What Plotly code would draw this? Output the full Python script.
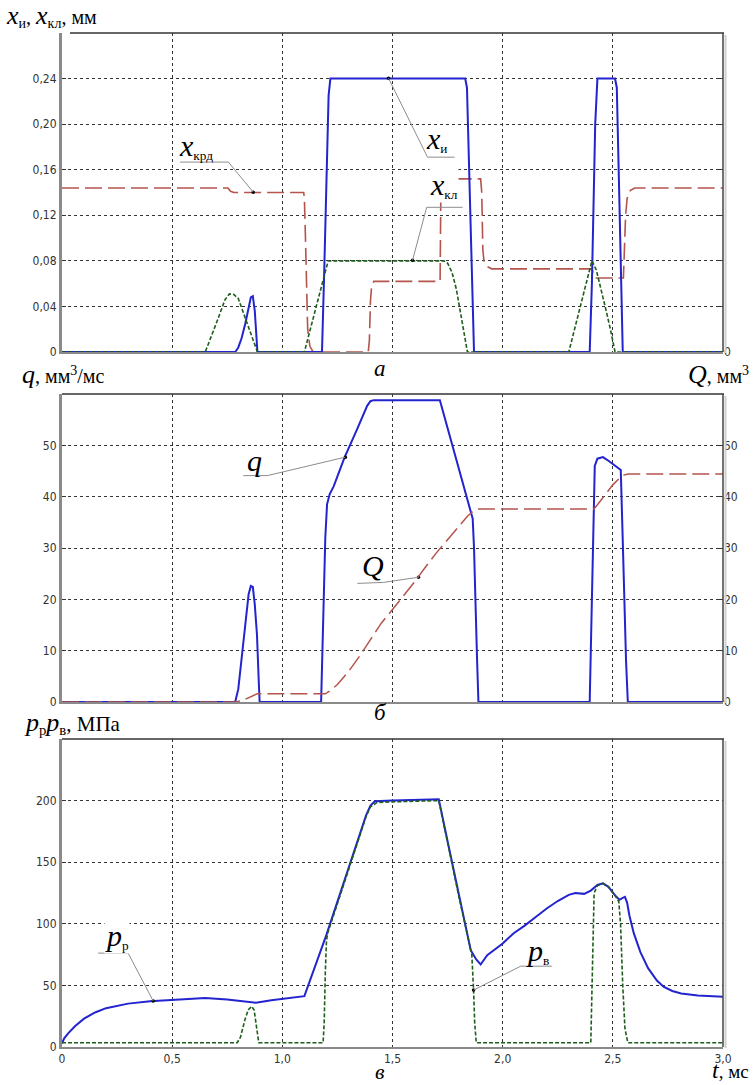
import plotly.graph_objects as go

# ---------------- data ----------------
# panel a: x_и, x_кл, x_крд  (t in ms, values in mm)
t_xi = [0, 0.786, 0.80, 0.815, 0.832, 0.847, 0.857, 0.866, 0.875, 0.887, 1.18, 1.19, 1.20, 1.21, 1.218, 1.83, 1.838, 1.845, 1.86, 1.87, 2.395, 2.405, 2.42, 2.43, 2.51, 2.518, 2.53, 2.545, 3.0]
v_xi = [0, 0, 0.004, 0.012, 0.025, 0.040, 0.048, 0.049, 0.036, 0, 0, 0.07, 0.16, 0.225, 0.24, 0.24, 0.232, 0.18, 0.06, 0, 0, 0.06, 0.2, 0.24, 0.24, 0.232, 0.13, 0, 0]

t_xkl = [0, 0.65, 0.70, 0.74, 0.76, 0.78, 0.80, 0.824, 0.85, 0.87, 0.887, 1.10, 1.15, 1.208, 1.733, 1.75, 1.77, 1.79, 1.81, 1.83, 1.84, 2.30, 2.35, 2.405, 2.425, 2.445, 2.47, 2.49, 2.51, 3.0]
v_xkl = [0, 0, 0.025, 0.046, 0.051, 0.0505, 0.047, 0.034, 0.02, 0.01, 0, 0, 0.037, 0.08, 0.08, 0.078, 0.07, 0.055, 0.033, 0.012, 0, 0, 0.038, 0.08, 0.072, 0.057, 0.036, 0.019, 0, 0]

t_xkrd = [0, 0.753, 0.765, 0.78, 1.097, 1.10, 1.105, 1.11, 1.115, 1.125, 1.14, 1.39, 1.395, 1.40, 1.405, 1.415, 1.716, 1.72, 1.90, 1.905, 1.91, 1.915, 1.93, 1.95, 2.405, 2.41, 2.42, 2.548, 2.552, 2.558, 2.565, 2.58, 2.60, 3.0]
v_xkrd = [0.144, 0.144, 0.141, 0.140, 0.140, 0.135, 0.10, 0.05, 0.02, 0.005, 0, 0, 0.01, 0.045, 0.057, 0.062, 0.062, 0.152, 0.152, 0.14, 0.09, 0.08, 0.075, 0.073, 0.073, 0.07, 0.065, 0.065, 0.09, 0.12, 0.135, 0.142, 0.144, 0.144]

# panel б: q (mm3/ms), Q (mm3)
t_q = [0, 0.786, 0.80, 0.815, 0.832, 0.847, 0.857, 0.866, 0.875, 0.885, 0.893, 0.897, 1.176, 1.185, 1.195, 1.203, 1.215, 1.233, 1.282, 1.339, 1.385, 1.40, 1.415, 1.715, 1.864, 1.87, 1.877, 1.884, 1.89, 2.395, 2.405, 2.418, 2.43, 2.455, 2.48, 2.51, 2.536, 2.544, 2.551, 2.56, 2.568, 3.0]
v_q = [0, 0, 2.5, 8, 14.7, 21, 22.6, 22.4, 19, 13, 4, 0, 0, 15, 32, 38.5, 40.5, 42, 47.6, 53.1, 57.7, 58.6, 58.8, 58.8, 35.7, 30, 21, 8, 0, 0, 20, 46, 47.4, 47.7, 47.0, 46.0, 45.2, 33, 21, 8, 0, 0]

t_Q = [0, 0.786, 0.82, 0.85, 0.87, 0.886, 1.195, 1.22, 1.25, 1.30, 1.35, 1.40, 1.45, 1.50, 1.536, 1.60, 1.65, 1.70, 1.75, 1.80, 1.84, 1.87, 1.89, 2.415, 2.44, 2.47, 2.50, 2.53, 2.55, 2.57, 3.0]
v_Q = [0, 0, 0.3, 0.9, 1.4, 1.6, 1.6, 2.3, 3.4, 5.9, 8.9, 12.2, 15.4, 18.0, 19.9, 23.4, 26.3, 29.1, 31.6, 34.2, 36.2, 37.3, 37.6, 37.6, 39.0, 40.8, 42.3, 43.6, 44.2, 44.4, 44.4]

# panel в: p_р, p_в (MPa)
t_pr = [0, 0.01, 0.03, 0.06, 0.10, 0.15, 0.20, 0.30, 0.40, 0.50, 0.65, 0.75, 0.85, 0.88, 0.95, 1.05, 1.10, 1.20, 1.30, 1.38, 1.40, 1.42, 1.50, 1.60, 1.71, 1.75, 1.80, 1.855, 1.88, 1.90, 1.93, 2.00, 2.05, 2.10, 2.15, 2.20, 2.25, 2.30, 2.33, 2.37, 2.40, 2.43, 2.455, 2.48, 2.51, 2.53, 2.545, 2.555, 2.565, 2.575, 2.595, 2.625, 2.66, 2.70, 2.73, 2.77, 2.81, 2.886, 3.0]
v_pr = [3, 7, 11.5, 17, 23, 28, 31.5, 35.2, 37.2, 38.2, 39.8, 38.5, 36.2, 36, 38, 40, 41.3, 91, 145, 188, 196, 199.5, 200, 200.5, 201, 167, 124, 78.6, 71, 67, 74.6, 84, 92.4, 98.5, 105.5, 112.4, 118.5, 123.5, 125, 124.3, 127, 131.5, 132.8, 130, 123, 119.5, 121, 121.8, 117, 107, 92.4, 77, 64, 54, 49, 45.5, 43.5, 41.9, 40.8]

t_pv = [0, 0.795, 0.81, 0.83, 0.845, 0.86, 0.872, 0.882, 0.893, 1.185, 1.19, 1.195, 1.20, 1.205, 1.30, 1.38, 1.40, 1.43, 1.50, 1.60, 1.71, 1.75, 1.80, 1.86, 1.865, 1.868, 1.873, 1.88, 2.40, 2.405, 2.41, 2.415, 2.43, 2.455, 2.48, 2.51, 2.527, 2.535, 2.545, 2.555, 2.568, 3.0]
v_pv = [3.5, 3.5, 8, 22, 30, 33, 30, 16, 3.5, 3.5, 20, 60, 85, 92, 144, 187, 195, 198.5, 199, 199.5, 200, 166, 123, 75, 60, 46, 20, 3.5, 3.5, 40, 100, 125, 131, 132.8, 130, 123, 118, 100, 50, 15, 3.5, 3.5]

x_ticks = [0, 0.5, 1.0, 1.5, 2.0, 2.5, 3.0]
x_ticktext = ["0", "0,5", "1,0", "1,5", "2,0", "2,5", "3,0"]
ya_ticks = [0, 0.04, 0.08, 0.12, 0.16, 0.20, 0.24]
ya_ticktext = ["0", "0,04", "0,08", "0,12", "0,16", "0,20", "0,24"]
yb_ticks = [0, 10, 20, 30, 40, 50]
yb_ticktext = ["0", "10", "20", "30", "40", "50"]
yc_ticks = [0, 50, 100, 150, 200]
yc_ticktext = ["0", "50", "100", "150", "200"]

# ---------------- styling ----------------
W, H = 753, 1085
BLUE = "#2323cf"
GREEN = "#1d5e1d"
BROWN = "#b4544c"
SERIF = "Liberation Serif, Times New Roman, serif"
TICKFONT = dict(family="Liberation Sans Narrow, DejaVu Sans Condensed, Roboto Condensed, Liberation Sans, sans-serif", size=12, color="#333")

X0, X1 = 62, 723
panels = {"a": (33, 352), "b": (394, 702), "c": (739, 1047)}

def px(x):
    return x / W

def py(y):
    return 1 - y / H

def ydom(k):
    t, b = panels[k]
    return [py(b), py(t)]

fig = go.Figure()

def line(x, y, color, width, dash, xa, ya):
    fig.add_trace(go.Scatter(x=x, y=y, mode="lines", xaxis=xa, yaxis=ya,
                             line=dict(color=color, width=width, dash=dash),
                             hoverinfo="skip", showlegend=False))

line(t_xkrd, v_xkrd, BROWN, 1.6, "17px,6px", "x", "y")
line(t_xi, v_xi, BLUE, 2, "solid", "x", "y")
line(t_xkl, v_xkl, GREEN, 1.6, "4px,2px", "x", "y")

line(t_Q, v_Q, BROWN, 1.5, "17px,6px", "x2", "y5")
line(t_q, v_q, BLUE, 2, "solid", "x2", "y2")

line(t_pr, v_pr, BLUE, 2, "solid", "x3", "y3")
line(t_pv, v_pv, GREEN, 1.6, "4px,2px", "x3", "y3")

xcommon = dict(domain=[px(X0), px(X1)], range=[0, 3], tickvals=x_ticks, ticktext=x_ticktext,
               showgrid=True, gridcolor="#333", griddash="dot", gridwidth=1,
               zeroline=False, showline=True, linecolor="#8a8a8a", linewidth=2,
               ticks="", tickfont=TICKFONT, layer="below traces")
ycommon = dict(showgrid=True, gridcolor="#333", griddash="dot", gridwidth=1,
               zeroline=False, showline=True, linecolor="#8a8a8a", linewidth=3,
               ticks="inside", ticklen=4, tickcolor="#333", tickfont=TICKFONT,
               layer="below traces")

fig.update_layout(
    autosize=True, margin=dict(l=0, r=0, t=0, b=0, autoexpand=False),
    paper_bgcolor="white", plot_bgcolor="white", showlegend=False,
    xaxis=dict(xcommon, anchor="y", showticklabels=False),
    xaxis2=dict(xcommon, anchor="y2", showticklabels=False),
    xaxis3=dict(xcommon, anchor="y3", showticklabels=True),
    yaxis=dict(ycommon, domain=ydom("a"), anchor="x", range=[0, 0.28], tickvals=ya_ticks, ticktext=ya_ticktext),
    yaxis2=dict(ycommon, domain=ydom("b"), anchor="x2", range=[0, 60], tickvals=yb_ticks, ticktext=yb_ticktext),
    yaxis3=dict(ycommon, domain=ydom("c"), anchor="x3", range=[0, 250], tickvals=yc_ticks, ticktext=yc_ticktext),
    yaxis4=dict(overlaying="y", side="right", anchor="x", range=[0, 0.28], tickvals=ya_ticks,
                ticktext=["0"] + [""] * (len(ya_ticks) - 1), showgrid=False, zeroline=False,
                ticks="inside", ticklen=4, tickcolor="#333", tickfont=TICKFONT, showline=False),
    yaxis5=dict(overlaying="y2", side="right", anchor="x2", range=[0, 60], tickvals=yb_ticks,
                ticktext=yb_ticktext, showgrid=False, zeroline=False,
                ticks="inside", ticklen=4, tickcolor="#333", tickfont=TICKFONT, showline=False),
)
# invisible trace to activate yaxis4
fig.add_trace(go.Scatter(x=[0], y=[0], xaxis="x", yaxis="y4", mode="markers",
                         marker=dict(size=0.1, color="rgba(0,0,0,0)"), hoverinfo="skip", showlegend=False))

# ---------------- frame (top / right borders) ----------------
shapes = []
for k, (t, b) in panels.items():
    xs = 70 if k == "a" else X0
    shapes.append(dict(type="line", xref="paper", yref="paper", x0=px(xs), x1=px(X1 + 1), y0=py(t), y1=py(t),
                       line=dict(color="#333", width=1.5), layer="above"))
    shapes.append(dict(type="line", xref="paper", yref="paper", x0=px(X1 + 2.5), x1=px(X1 + 2.5), y0=py(b + 1), y1=py(t + 2),
                       line=dict(color="#cfcfcf", width=2), layer="above"))
    shapes.append(dict(type="line", xref="paper", yref="paper", x0=px(X1), x1=px(X1), y0=py(b), y1=py(t),
                       line=dict(color="#444", width=1.5), layer="above"))

# ---------------- leader lines for curve labels ----------------
LEAD = dict(color="#8c8c8c", width=1)
leaders = [
    ("x", "y", [(0.536, 0.1667), (0.755, 0.1667), (0.868, 0.1403)]),     # x_крд
    ("x", "y", [(1.782, 0.171), (1.659, 0.171), (1.482, 0.2403)]),       # x_и
    ("x", "y", [(1.818, 0.127), (1.655, 0.127), (1.591, 0.0805)]),       # x_кл
    ("x2", "y2", [(0.823, 44.1), (0.932, 44.1), (1.286, 47.7)]),         # q
    ("x2", "y2", [(1.341, 23.1), (1.46, 23.3), (1.618, 24.3)]),          # Q
    ("x3", "y3", [(0.164, 76.2), (0.30, 76.2), (0.414, 37.3)]),          # p_р
    ("x3", "y3", [(2.223, 65.6), (2.082, 65.6), (1.868, 46.2)]),         # p_в
]
for xr, yr, pts in leaders:
    for (xa, ya), (xb, yb) in zip(pts[:-1], pts[1:]):
        shapes.append(dict(type="line", xref=xr, yref=yr, x0=xa, y0=ya, x1=xb, y1=yb, line=LEAD, layer="above"))
    fig.add_trace(go.Scatter(x=[pts[-1][0]], y=[pts[-1][1]], xaxis=xr, yaxis=yr,
                             mode="markers", marker=dict(size=3.5, color="black"),
                             hoverinfo="skip", showlegend=False))
fig.update_layout(shapes=shapes)

# ---------------- text ----------------
def big(s, size=30):
    return f"<span style='font-size:{size}px'><i>{s}</i></span>"

ann = []
def label(xr, yr, x, y, text, bg=None):
    d = dict(xref=xr, yref=yr, x=x, y=y, text=text, showarrow=False,
             font=dict(family=SERIF, size=19, color="black"), xanchor="center", yanchor="middle")
    if bg:
        d["bgcolor"] = bg
        d["borderpad"] = 0
    ann.append(d)

label("x", "y", 0.61, 0.181, big("x") + "<sub>крд</sub>")
label("x", "y", 1.70, 0.187, big("x") + "<sub>и</sub>")
label("x", "y", 1.735, 0.147, big("x") + "<sub>кл</sub>", bg="white")
label("x2", "y2", 0.875, 47.0, big("q"))
label("x2", "y2", 1.41, 26.6, big("Q"))
label("x3", "y3", 0.25, 90, big("p") + "<sub>р</sub>", bg="white")
label("x3", "y3", 2.16, 78, big("p") + "<sub>в</sub>")

def ptext(x, y, text, xanchor, size=20):
    ann.append(dict(xref="paper", yref="paper", x=px(x), y=py(y), text=text, showarrow=False,
                    font=dict(family=SERIF, size=size, color="black"), xanchor=xanchor, yanchor="middle"))

ptext(4, 16, big("x", 26) + "<sub>и</sub>, " + big("x", 26) + "<sub>кл</sub>, мм", "left", 20)
ptext(20, 375, big("q", 26) + ", мм<sup>3</sup>/мс", "left", 20)
ptext(751, 375, big("Q", 26) + ", мм<sup>3</sup>", "right", 20)
ptext(22, 723, big("p", 26) + "<sub>р</sub>" + big("p", 26) + "<sub>в</sub>, МПа", "left", 21)
ptext(751, 1070, big("t", 24) + ", мс", "right", 19)
ptext(380, 368, big("а", 23), "center")
ptext(380, 712, big("б", 23), "center")
ptext(380, 1071, big("в", 22), "center")

fig.update_layout(annotations=ann)

post = (
    "document.documentElement.style.margin='0';document.documentElement.style.padding='0';"
    "document.documentElement.style.overflow='hidden';"
    "document.body.style.margin='0';document.body.style.padding='0';document.body.style.overflow='hidden';"
    "var gd=document.getElementById('{plot_id}');gd.style.width='100vw';gd.style.height='100vh';"
    "Plotly.Plots.resize(gd);"
)
fig.write_html("out.html", config={"displayModeBar": False, "responsive": True},
               default_width="100vw", default_height="100vh", post_script=post)
